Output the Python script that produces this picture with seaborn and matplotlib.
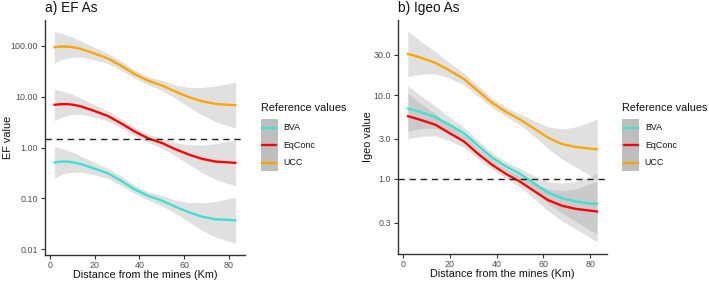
import numpy as np
import pandas as pd
import matplotlib
matplotlib.use("Agg")
import matplotlib.pyplot as plt
from matplotlib.patches import Rectangle
from matplotlib.lines import Line2D
import seaborn as sns

# ---------------- data ----------------
km = [2, 5, 8, 11, 14, 20, 26, 32, 38, 44, 50, 56, 62, 68, 74, 80, 83]

ef_bva = [0.51, 0.53, 0.53, 0.505, 0.47, 0.385, 0.31, 0.22, 0.15, 0.112, 0.091, 0.069, 0.054, 0.044, 0.039, 0.038, 0.037]
ef_eqconc = [6.9, 7.1, 7.1, 6.85, 6.4, 5.2, 4.15, 2.95, 2.05, 1.51, 1.23, 0.93, 0.73, 0.60, 0.53, 0.51, 0.50]
ef_ucc = [93, 96, 96, 92, 86, 70, 56, 40, 27.5, 20.4, 16.6, 12.6, 9.8, 8.1, 7.2, 6.9, 6.8]
ef_band = [0.31, 0.26, 0.22, 0.19, 0.155, 0.12, 0.10, 0.09, 0.08, 0.08, 0.10, 0.13, 0.19, 0.27, 0.35, 0.42, 0.45]  # log10 half-width

igeo_bva = [6.9, 6.55, 6.2, 5.8, 5.4, 4.4, 3.5, 2.5, 1.8, 1.41, 1.15, 0.89, 0.69, 0.59, 0.54, 0.51, 0.51]
igeo_eqconc = [5.6, 5.3, 5.0, 4.7, 4.4, 3.5, 2.8, 2.0, 1.48, 1.15, 0.93, 0.72, 0.56, 0.48, 0.44, 0.42, 0.41]
igeo_ucc = [30.9, 29.3, 27.5, 25.8, 24, 19.5, 15.5, 11.2, 8.1, 6.3, 5.1, 4.0, 3.1, 2.6, 2.4, 2.3, 2.26]
igeo_band = [0.27, 0.23, 0.19, 0.16, 0.13, 0.09, 0.07, 0.06, 0.055, 0.055, 0.065, 0.09, 0.13, 0.18, 0.24, 0.32, 0.36]

ref_names = ["BVA", "EqConc", "UCC"]
ref_colors = ["#40E0D0", "#FF0000", "#FFA500"]

ef_ticks = [0.01, 0.1, 1, 10, 100]
ef_ticklabels = ["0.01", "0.10", "1.00", "10.00", "100.00"]
igeo_ticks = [0.3, 1, 3, 10, 30]
igeo_ticklabels = ["0.3", "1.0", "3.0", "10.0", "30.0"]
x_ticks = [0, 20, 40, 60, 80]

ef_threshold = 1.5
igeo_threshold = 1.0

# ---------------- style ----------------
sns.set_style("white")
plt.rcParams["font.family"] = ["Liberation Sans", "DejaVu Sans"]

W, H = 709, 281
fig = plt.figure(figsize=(W / 100, H / 100), dpi=100)

def fx(px):
    return px / W

def fy(py):
    return 1 - py / H

ax1 = fig.add_axes([fx(45), fy(255), fx(245) - fx(45), fy(20) - fy(255)])
ax2 = fig.add_axes([fx(398), fy(254), fx(607) - fx(398), fy(20) - fy(254)])

def panel(ax, series, band, ylim, ticks, ticklabels, thr, ylabel, title, title_x):
    df = pd.DataFrame({"km": km})
    hw = np.array(band)
    for name, color, vals in zip(ref_names, ref_colors, series):
        v = np.array(vals, dtype=float)
        ax.fill_between(km, v / 10 ** hw, v * 10 ** hw, color="#999999",
                        alpha=0.3, linewidth=0)
        df[name] = v
        sns.lineplot(data=df, x="km", y=name, color=color, linewidth=1.7, ax=ax)
    ax.axhline(thr, color="#222222", linestyle=(0, (4.5, 3.5)), linewidth=1.0)
    ax.set_yscale("log")
    ax.set_ylim(*ylim)
    ax.set_xlim(-2.2, 87.2)
    ax.set_yticks(ticks)
    ax.set_yticklabels(ticklabels)
    ax.yaxis.set_minor_locator(matplotlib.ticker.NullLocator())
    ax.set_xticks(x_ticks)
    ax.set_xticklabels([str(t) for t in x_ticks])
    for s in ["top", "right"]:
        ax.spines[s].set_visible(False)
    for s in ["left", "bottom"]:
        ax.spines[s].set_color("#333333")
        ax.spines[s].set_linewidth(1.0)
    ax.tick_params(axis="both", which="major", length=3, width=0.8,
                   color="#333333", labelcolor="#4D4D4D", labelsize=6.4,
                   direction="out", bottom=True, left=True)
    ax.tick_params(axis="x", pad=1)
    ax.tick_params(axis="y", pad=2)
    ax.set_xlabel("Distance from the mines (Km)", fontsize=7.8, color="#111111", labelpad=0.5)
    ax.set_ylabel(ylabel, fontsize=7.8, color="#111111")
    fig.text(fx(title_x), fy(8), title, fontsize=9.8, color="#111111",
             ha="left", va="center")

panel(ax1, [ef_bva, ef_eqconc, ef_ucc], ef_band, (10 ** -2.11, 10 ** 2.504),
      ef_ticks, ef_ticklabels, ef_threshold, "EF value", "a) EF As", 45)
panel(ax2, [igeo_bva, igeo_eqconc, igeo_ucc], igeo_band, (10 ** -0.893, 10 ** 1.893),
      igeo_ticks, igeo_ticklabels, igeo_threshold, "Igeo value", "b) Igeo As", 398)
ax1.yaxis.set_label_coords(-0.16, 0.5)
ax2.yaxis.set_label_coords(-0.12, 0.5)

def add_legend(x_px):
    fig.text(fx(x_px), fy(108), "Reference values", fontsize=7.8, color="#111111",
             ha="left", va="center")
    fig.patches.append(Rectangle((fx(x_px), fy(171)), fx(17), fy(119) - fy(171),
                                 transform=fig.transFigure, facecolor="#BEBEBE",
                                 edgecolor="none", figure=fig))
    for i, (name, color) in enumerate(zip(ref_names, ref_colors)):
        yc = 127.7 + 17.5 * i
        fig.lines.append(Line2D([fx(x_px + 1.5), fx(x_px + 15.5)], [fy(yc), fy(yc)],
                                transform=fig.transFigure, color=color,
                                linewidth=1.7, figure=fig))
        fig.text(fx(x_px + 22.5), fy(yc), name, fontsize=6.4, color="#111111",
                 ha="left", va="center")

add_legend(260.7)
add_legend(622.3)

fig.savefig("out.png", dpi=100)
